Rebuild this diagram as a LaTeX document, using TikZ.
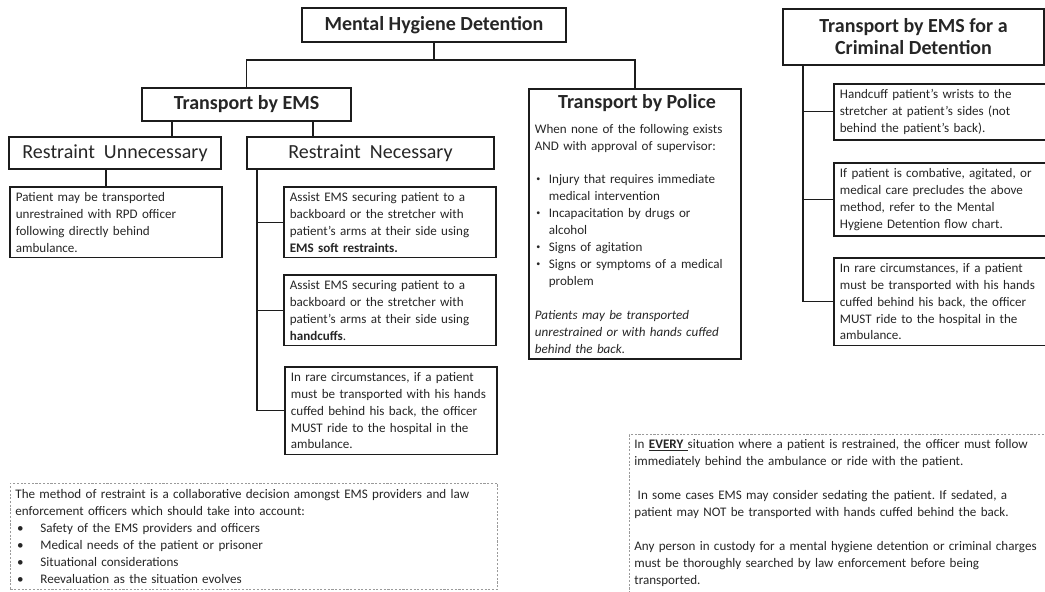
\documentclass[tikz,border=0pt]{standalone}
\usepackage{fontspec}
\setmainfont{Carlito}
\usetikzlibrary{positioning}
\definecolor{ink}{HTML}{262626}
\definecolor{frame}{HTML}{1C1C1C}
\definecolor{dashgray}{HTML}{9A9A9A}
\frenchspacing

% bullet line with hanging indent
\newcommand{\bitem}[3][\textbullet]{\par\hangindent=#2\hangafter=1\noindent
  \makebox[#2][l]{\hspace{1.2pt}#1}#3\par}
\newcommand{\smallbul}{\raisebox{1.6pt}{\fontsize{6}{6}\selectfont\textbullet}}

\begin{document}
\begin{tikzpicture}[
    x=0.75pt, y=-0.75pt,
    text=ink,
    head/.style={draw=frame, line width=1.3pt, inner sep=2pt,
                 font=\fontsize{15}{16.5}\selectfont\bfseries, align=center},
    sub/.style={draw=frame, line width=1.3pt, inner sep=2pt,
                font=\fontsize{15}{16.5}\selectfont},
    txtbox/.style={draw=frame, line width=1.3pt, anchor=north west,
                   text width=150pt, inner xsep=4.5pt, inner ysep=4pt,
                   align=left, font=\fontsize{9.8}{12.7}\selectfont},
    note/.style={draw=dashgray, line width=0.6pt, dash pattern=on 1.6pt off 1.2pt,
                 anchor=north west, inner xsep=3.75pt, inner ysep=4pt,
                 align=left, font=\fontsize{9.8}{12.7}\selectfont},
    conn/.style={draw=frame, line width=1pt},
]
\useasboundingbox (0,0) rectangle (1045,592);

% ---- Top ----
\node[head, minimum width=198pt, minimum height=25.5pt] (mhd) at (434,25)
    {Mental Hygiene Detention};
\node[head, minimum width=156.75pt, minimum height=24.75pt] (ems) at (246.5,104.5)
    {Transport by EMS};

% ---- Transport by Police ----
\node[txtbox] (police) at (528,88) {%
    \vspace*{3.5pt}
    {\centering\fontsize{15}{18}\selectfont\bfseries Transport by Police\par}
    \vspace{2.5pt}
    When none of the following exists\\
    AND with approval of supervisor:\par
    \mbox{}\par
    \bitem[\smallbul]{10.5pt}{Injury that requires immediate\newline medical intervention}
    \bitem[\smallbul]{10.5pt}{Incapacitation by drugs or\newline alcohol}
    \bitem[\smallbul]{10.5pt}{Signs of agitation}
    \bitem[\smallbul]{10.5pt}{Signs or symptoms of a medical\newline problem}
    \mbox{}\par
    \textit{Patients may be transported\\
    unrestrained or with hands cuffed\\
    behind the back.}};

\draw[conn] (mhd.south) -- ++(0,17) coordinate (mhdsplit);
\draw[conn] (ems.north) |- (mhdsplit) -| (police.north);

% ---- Transport by EMS ----
\node[sub, minimum width=159pt, minimum height=24pt] (ru) at (115,153)
    {Restraint~~Unnecessary};
\node[sub, minimum width=185.25pt, minimum height=24pt] (rn) at (370.5,153)
    {Restraint~~Necessary};
\draw[conn] (ems.south west) ++(31,0) coordinate (emsl) -- (emsl |- ru.north);
\draw[conn] (ems.south east) ++(-39,0) coordinate (emsr) -- (emsr |- rn.north);

\node[txtbox] (pat) at (9,186)
    {Patient may be transported\\
     unrestrained with RPD officer\\
     following directly behind\\
     ambulance.};
\draw[conn] (ru.south) ++(-9,0) coordinate (rud) -- (rud |- pat.north);

\node[txtbox] (soft) at (283,186)
    {Assist EMS securing patient to a\\
     backboard or the stretcher with\\
     patient’s arms at their side using\\
     \textbf{EMS soft restraints.}};
\node[txtbox] (cuff) at (283,274)
    {Assist EMS securing patient to a\\
     backboard or the stretcher with\\
     patient’s arms at their side using\\
     \textbf{handcuffs}.};
\node[txtbox] (rare) at (284,366)
    {In rare circumstances, if a patient\\
     must be transported with his hands\\
     cuffed behind his back, the officer\\
     MUST ride to the hospital in the\\
     ambulance.};
\draw[conn] (rn.south west) ++(11,0) coordinate (rnspine) |- (rare.west);
\draw[conn] (rnspine |- soft.west) -- (soft.west);
\draw[conn] (rnspine |- cuff.west) -- (cuff.west);

% ---- Criminal detention ----
\node[head, minimum width=195.75pt, minimum height=42pt] (crim) at (913.5,37)
    {Transport by EMS for a\\ Criminal Detention};
\node[txtbox] (wrist) at (833,83)
    {Handcuff patient’s wrists to the\\
     stretcher at patient’s sides (not\\
     behind the patient’s back).};
\node[txtbox] (combat) at (833,162)
    {If patient is combative, agitated, or\\
     medical care precludes the above\\
     method, refer to the Mental\\
     Hygiene Detention flow chart.};
\node[txtbox] (crare) at (833,257)
    {In rare circumstances, if a patient\\
     must be transported with his hands\\
     cuffed behind his back, the officer\\
     MUST ride to the hospital in the\\
     ambulance.};
\draw[conn] (crim.south west) ++(21,0) coordinate (crspine) |- (crare.west);
\draw[conn] (crspine |- wrist.west) -- (wrist.west);
\draw[conn] (crspine |- combat.west) -- (combat.west);

% ---- Notes ----
\node[note, text width=357.75pt, minimum height=79.5pt] (method) at (10,483) {%
    The method of restraint is a collaborative decision amongst EMS providers and law\\
    enforcement officers which should take into account:\par
    \bitem{18.75pt}{Safety of the EMS providers and officers}
    \bitem{18.75pt}{Medical needs of the patient or prisoner}
    \bitem{18.75pt}{Situational considerations}
    \bitem{18.75pt}{Reevaluation as the situation evolves}};
\node[note, text width=315pt] (every) at (629,434) {%
    In \underline{\textbf{EVERY }}situation where a patient is restrained, the officer must follow\\
    immediately behind the ambulance or ride with the patient.\par
    \mbox{}\par
    \hspace*{2.5pt}In some cases EMS may consider sedating the patient. If sedated, a\\
    patient may NOT be transported with hands cuffed behind the back.\par
    \mbox{}\par
    Any person in custody for a mental hygiene detention or criminal charges\\
    must be thoroughly searched by law enforcement before being\\
    transported.\par
    \mbox{}\par\mbox{}};
\end{tikzpicture}
\end{document}
